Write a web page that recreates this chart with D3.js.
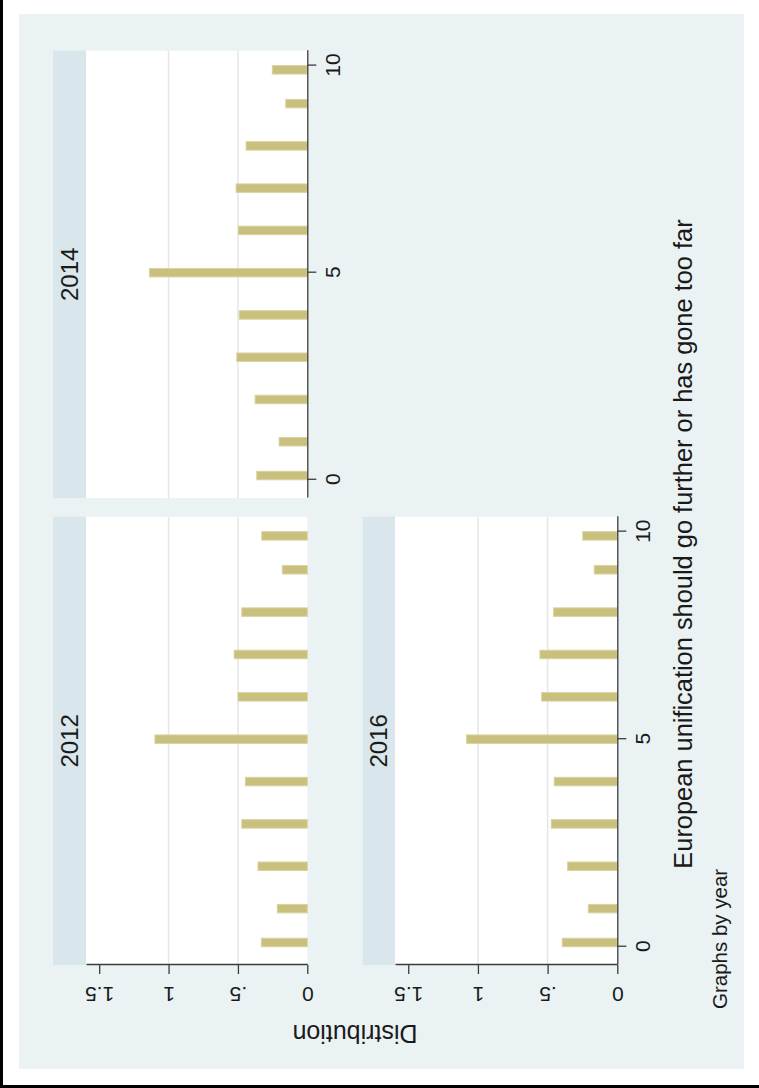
<!DOCTYPE html>
<html>
<head>
<meta charset="utf-8">
<script src="https://cdn.jsdelivr.net/npm/d3@7"></script>
<style>
  html, body { margin: 0; padding: 0; background: #ffffff; }
  svg { display: block; }
  text { font-family: "Liberation Sans", Arial, Helvetica, sans-serif; fill: #1a1a1a; }
</style>
</head>
<body>
<svg id="chart" width="759" height="1088"></svg>
<script>
// ---------------- data ----------------
const categories = [0, 1, 2, 3, 4, 5, 6, 7, 8, 9, 10];
const years = ["2012", "2014", "2016"];
const density2012 = [0.331, 0.216, 0.355, 0.472, 0.446, 1.098, 0.499, 0.527, 0.472, 0.180, 0.328];
const density2014 = [0.364, 0.203, 0.376, 0.508, 0.491, 1.137, 0.496, 0.513, 0.441, 0.155, 0.252];
const density2016 = [0.395, 0.208, 0.356, 0.474, 0.452, 1.081, 0.543, 0.555, 0.457, 0.165, 0.248];
const binCount = 49;          // histogram bins spanning the 0–10 range
const binRange = [0, 10];
const xTicks = [0, 5, 10];
const xTickLabels = ["0", "5", "10"];
const yTicks = [0, 0.5, 1, 1.5];
const yTickLabels = ["0", ".5", "1", "1.5"];
const gridValues = [0.5, 1];
const xTitle = "European unification should go further or has gone too far";
const yTitle = "Distribution";
const noteText = "Graphs by year";

// ---------------- layout (drawn in landscape, then rotated) ----------------
const IMG_W = 759, IMG_H = 1088;
const colors = {
  outer: "#eaf2f3", strip: "#d9e6eb", plot: "#ffffff",
  grid: "#e6e6e6", axis: "#3c3c3c",
  barFill: "#c9c07d", barStroke: "#d8d29f"
};
const cols = [{x0: 123, x1: 571.3}, {x0: 590, x1: 1037.3}];
const rows = [{s0: 53, p0: 86, p1: 307.3}, {s0: 362.7, p0: 395, p1: 617.3}];
const panels = [
  {year: years[0], values: density2012, r: 0, c: 0, yAxis: true,  xAxis: false},
  {year: years[1], values: density2014, r: 0, c: 1, yAxis: false, xAxis: true},
  {year: years[2], values: density2016, r: 1, c: 0, yAxis: true,  xAxis: true}
];
const xDomain = [-0.44, 10.36];
const yDomain = [0, 1.595];

const svg = d3.select("#chart");
svg.append("rect").attr("x", 0).attr("y", 0).attr("width", IMG_W).attr("height", IMG_H).attr("fill", "#ffffff");

const g = svg.append("g").attr("transform", `translate(0,${IMG_H}) rotate(-90)`);

// outer graph region
g.append("rect").attr("x", 19).attr("y", 19).attr("width", 1055).attr("height", 725).attr("fill", colors.outer);

const binW = (binRange[1] - binRange[0]) / binCount;
function binOf(v) {
  return Math.min(binCount - 1, Math.max(0, Math.floor((v - binRange[0]) / binW)));
}

panels.forEach(p => {
  const col = cols[p.c], row = rows[p.r];
  const x = d3.scaleLinear().domain(xDomain).range([col.x0, col.x1]);
  const y = d3.scaleLinear().domain(yDomain).range([row.p1, row.p0]);
  const pg = g.append("g");

  // strip
  pg.append("rect").attr("x", col.x0).attr("y", row.s0)
    .attr("width", col.x1 - col.x0).attr("height", row.p0 - row.s0).attr("fill", colors.strip);
  pg.append("text").attr("x", (col.x0 + col.x1) / 2).attr("y", row.s0 + 24.5)
    .attr("text-anchor", "middle").attr("font-size", 24).text(p.year);

  // plot region
  pg.append("rect").attr("x", col.x0).attr("y", row.p0)
    .attr("width", col.x1 - col.x0).attr("height", row.p1 - row.p0).attr("fill", colors.plot);

  // grid lines
  pg.selectAll("line.grid").data(gridValues).join("line").attr("class", "grid")
    .attr("x1", col.x0).attr("x2", col.x1)
    .attr("y1", d => y(d)).attr("y2", d => y(d))
    .attr("stroke", colors.grid).attr("stroke-width", 1.5);

  // bars
  const bars = categories.map((c, i) => ({c, v: p.values[i], b: binOf(c)}));
  pg.selectAll("rect.bar").data(bars).join("rect").attr("class", "bar")
    .attr("x", d => x(binRange[0] + d.b * binW))
    .attr("width", d => x(binRange[0] + (d.b + 1) * binW) - x(binRange[0] + d.b * binW))
    .attr("y", d => y(d.v))
    .attr("height", d => y(0) - y(d.v))
    .attr("fill", colors.barFill).attr("stroke", colors.barStroke).attr("stroke-width", 1);

  // y axis
  if (p.yAxis) {
    const ax = pg.append("g").attr("transform", `translate(${col.x0},0)`)
      .call(d3.axisLeft(y).tickValues(yTicks).tickFormat((d, i) => yTickLabels[i]).tickSize(9).tickSizeOuter(0));
    ax.attr("font-size", null).attr("font-family", null);
    ax.select(".domain").attr("stroke", colors.axis).attr("stroke-width", 1.3);
    ax.selectAll(".tick line").attr("stroke", colors.axis).attr("stroke-width", 1.3);
    ax.selectAll(".tick text")
      .attr("x", null).attr("dy", null).attr("y", 0)
      .attr("transform", "translate(-22,0) rotate(-90)")
      .attr("text-anchor", "middle")
      .style("font-size", "21px").attr("fill", "#1a1a1a");
  }
  // x axis
  if (p.xAxis) {
    const ax = pg.append("g").attr("transform", `translate(0,${row.p1})`)
      .call(d3.axisBottom(x).tickValues(xTicks).tickFormat((d, i) => xTickLabels[i]).tickSize(9).tickSizeOuter(0));
    ax.attr("font-size", null).attr("font-family", null);
    ax.select(".domain").attr("stroke", colors.axis).attr("stroke-width", 1.3);
    ax.selectAll(".tick line").attr("stroke", colors.axis).attr("stroke-width", 1.3);
    ax.selectAll(".tick text")
      .attr("y", 33).attr("dy", null)
      .attr("text-anchor", "middle")
      .style("font-size", "21px").attr("fill", "#1a1a1a");
  }
});

// axis titles and note
g.append("text").attr("transform", "translate(63,355) rotate(-90)")
  .attr("text-anchor", "middle").attr("font-size", 25).text(yTitle);
g.append("text").attr("x", 544).attr("y", 691.5)
  .attr("text-anchor", "middle").attr("font-size", 25.4).text(xTitle);
g.append("text").attr("x", 79).attr("y", 726.5)
  .attr("text-anchor", "start").attr("font-size", 20.5).text(noteText);

// scan border (left and bottom edges)
svg.append("rect").attr("x", 0).attr("y", 0).attr("width", 3).attr("height", IMG_H).attr("fill", "#000");
svg.append("rect").attr("x", 0).attr("y", IMG_H - 3).attr("width", IMG_W).attr("height", 3).attr("fill", "#000");
</script>
</body>
</html>
